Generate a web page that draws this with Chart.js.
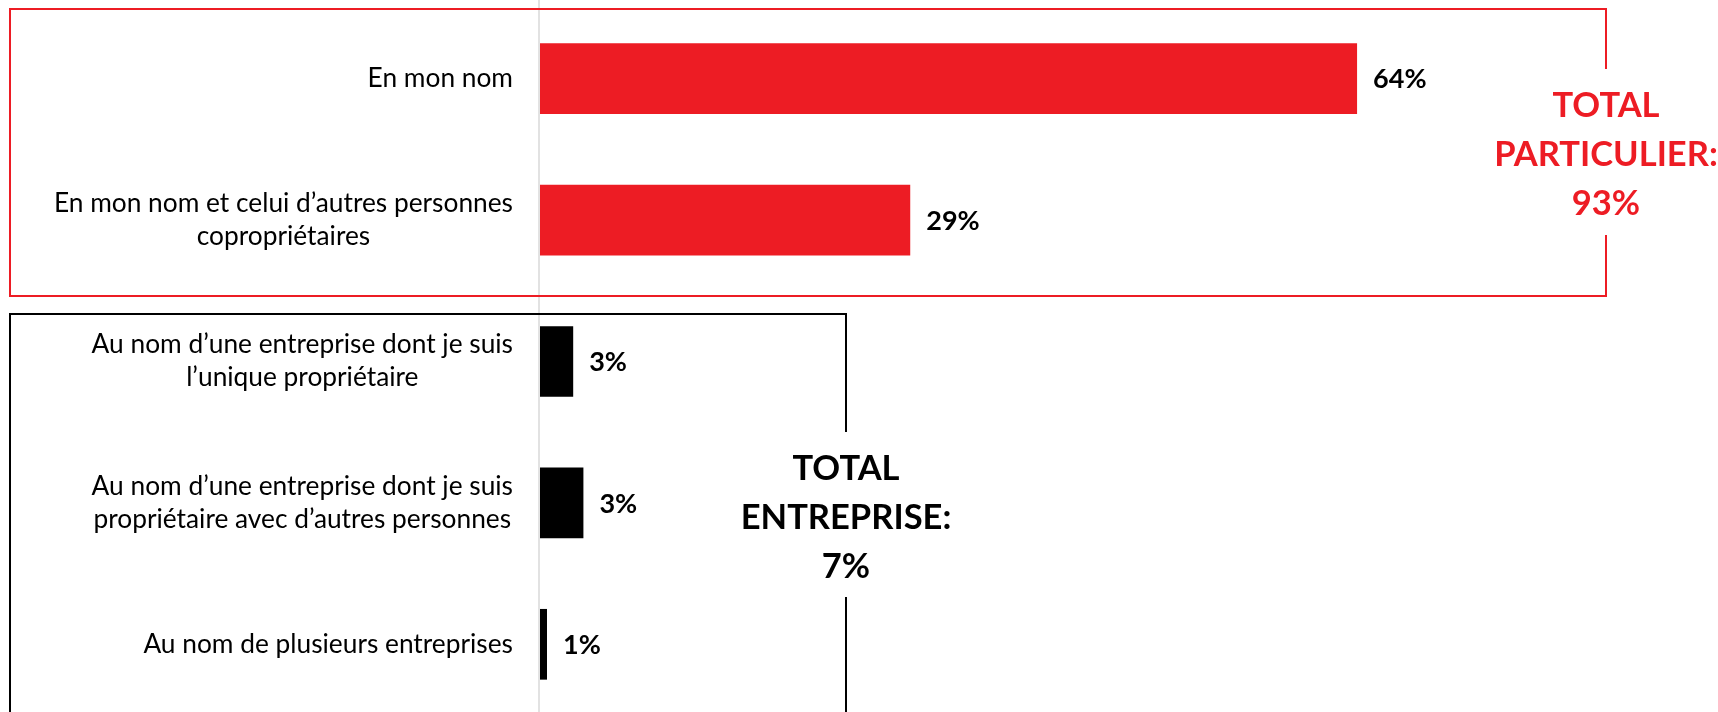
<!DOCTYPE html>
<html lang="fr">
<head>
<meta charset="utf-8">
<title>Propriété</title>
<script src="https://cdn.jsdelivr.net/npm/chart.js@4/dist/chart.umd.min.js"></script>
<style>
    html, body { margin: 0; padding: 0; background: #fff; overflow: hidden; }
    #wrap { position: relative; width: 1718px; height: 722px; }
</style>
</head>
<body>
<div id="wrap"><canvas id="chart"></canvas></div>
<script>
// Libellés (une entrée par ligne de texte)
const categories = [
    ['En mon nom'],
    ['En mon nom et celui d’autres personnes', 'copropriétaires'],
    ['Au nom d’une entreprise dont je suis', 'l’unique propriétaire'],
    ['Au nom d’une entreprise dont je suis', 'propriétaire avec d’autres personnes'],
    ['Au nom de plusieurs entreprises']
];
const values = [64, 29, 2.6, 3.4, 0.55];
const groupOf = [0, 0, 1, 1, 1];
const groupNames = ['PARTICULIER:', 'ENTREPRISE:'];

const RED = '#ED1C24';
const BLACK = '#000000';
const groupColors = [RED, BLACK];
const FONT = 'Lato, "Open Sans", sans-serif';

// Encadrés des deux groupes + libellé du total
const groupBoxes = [
    { left: 10, top: 9, right: 1606, bottom: 296, gapTop: 69, gapBottom: 235, textY: 106 },
    { left: 10, top: 314, right: 846, bottom: 730, gapTop: 432, gapBottom: 597, textY: 469 }
];

const labelRight = 513;

const decorPlugin = {
    id: 'decor',
    beforeDatasetsDraw(chart) {
        const ctx = chart.ctx;
        const x0 = chart.scales.x.getPixelForValue(0);
        ctx.save();
        // axe vertical gris sur toute la hauteur
        ctx.strokeStyle = '#D9D9D9';
        ctx.lineWidth = 1.5;
        ctx.beginPath();
        ctx.moveTo(x0 - 1, 0);
        ctx.lineTo(x0 - 1, chart.height);
        ctx.stroke();

        // encadrés
        groupBoxes.forEach((b, g) => {
            ctx.strokeStyle = groupColors[g];
            ctx.lineWidth = 2;
            ctx.beginPath();
            ctx.moveTo(b.right, b.gapTop);
            ctx.lineTo(b.right, b.top);
            ctx.lineTo(b.left, b.top);
            ctx.lineTo(b.left, b.bottom);
            ctx.lineTo(b.right, b.bottom);
            ctx.lineTo(b.right, b.gapBottom);
            ctx.stroke();
        });
        ctx.restore();
    },
    afterDatasetsDraw(chart) {
        const ctx = chart.ctx;
        const yScale = chart.scales.y;
        const meta = chart.getDatasetMeta(0);
        ctx.save();

        // libellés des catégories : bloc aligné à droite, lignes centrées
        ctx.fillStyle = '#000';
        ctx.font = '26.3px ' + FONT;
        ctx.textBaseline = 'middle';
        ctx.textAlign = 'center';
        const lh = 33;
        chart.data.labels.forEach((lines, i) => {
            const yc = yScale.getPixelForTick(i);
            const w = Math.max(...lines.map(l => ctx.measureText(l).width));
            const xc = labelRight - w / 2;
            lines.forEach((line, k) => {
                ctx.fillText(line, xc, yc - (lines.length - 1) * lh / 2 + k * lh);
            });
        });

        // valeurs au bout des barres
        ctx.font = 'bold 27px ' + FONT;
        ctx.textAlign = 'left';
        meta.data.forEach((bar, i) => {
            ctx.fillText(Math.round(values[i]) + '%', bar.x + 16, bar.y + 1);
        });

        // totaux par groupe
        ctx.font = 'bold 34.5px ' + FONT;
        ctx.textAlign = 'center';
        groupBoxes.forEach((b, g) => {
            const total = Math.round(values.filter((v, i) => groupOf[i] === g).reduce((a, v) => a + v, 0));
            ctx.fillStyle = groupColors[g];
            ['TOTAL', groupNames[g], total + '%'].forEach((t, k) => {
                ctx.fillText(t, b.right, b.textY + k * 49);
            });
        });
        ctx.restore();
    }
};

new Chart(document.getElementById('chart'), {
    type: 'bar',
    data: {
        labels: categories,
        datasets: [{
            data: values,
            backgroundColor: groupOf.map(g => groupColors[g]),
            borderWidth: 0,
            categoryPercentage: 1,
            barPercentage: 0.5
        }]
    },
    options: {
        indexAxis: 'y',
        responsive: true,
        maintainAspectRatio: false,
        animation: false,
        devicePixelRatio: 1,
        layout: { padding: { top: 8, bottom: 7, left: 0, right: 29 } },
        scales: {
            x: {
                display: false,
                min: 0,
                max: 90
            },
            y: {
                grid: { display: false, drawTicks: false },
                border: { display: false },
                ticks: { display: false },
                afterFit(scale) {
                    scale.width = 540;
                }
            }
        },
        plugins: {
            legend: { display: false },
            tooltip: { enabled: false }
        }
    },
    plugins: [decorPlugin]
});
</script>
</body>
</html>
